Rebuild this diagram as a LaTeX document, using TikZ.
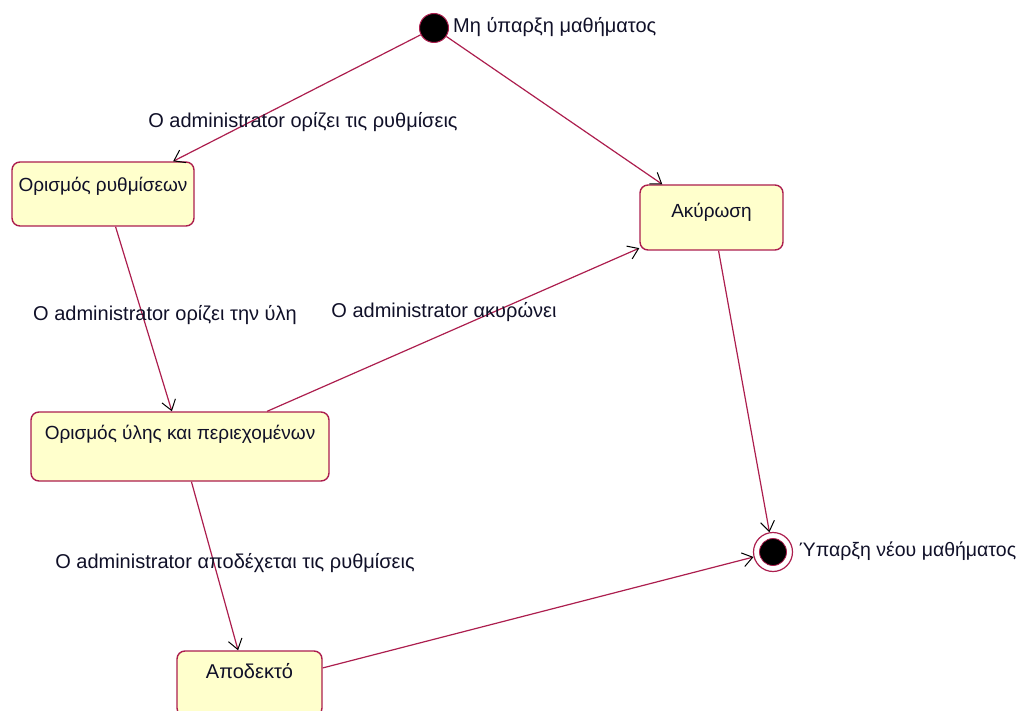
\documentclass[tikz,border=0pt]{standalone}
\usepackage{fontspec}
\setmainfont{Liberation Sans}
\usetikzlibrary{arrows.meta}
\definecolor{umlline}{RGB}{172,30,78}
\definecolor{umlfill}{RGB}{255,255,204}
\definecolor{umltext}{RGB}{16,16,40}
\tikzset{
  state/.style={draw=umlline, fill=umlfill, line width=1.4pt, rounded corners=8pt,
    inner sep=0pt, text=umltext, font=\fontsize{19}{23}\selectfont},
  lbl/.style={text=umltext, font=\fontsize{20}{24}\selectfont, inner sep=0pt},
  trans/.style={draw=umlline, line width=1.2pt,
    -{Straight Barb[length=10pt,width=14pt,color=black,line width=1pt]}},
  initst/.style={circle, fill=black, draw=umlline, line width=1pt, minimum size=29pt, inner sep=0pt},
  finst/.style={circle, draw=umlline, line width=1.2pt, fill=white, minimum size=39pt, inner sep=0pt,
    path picture={\fill[black] (path picture bounding box.center) circle (13.5pt);
                  \draw[umlline, line width=0.8pt] (path picture bounding box.center) circle (13.5pt);}},
}
\begin{document}
\begin{tikzpicture}[x=1pt,y=-1pt]
\useasboundingbox (0,0) rectangle (1019,711);

\node[initst] (init) at (434,28) {};
\node[lbl, anchor=base west] (initl) at (453,33) {Μη ύπαρξη μαθήματος};

\node[finst] (fin) at (773,552) {};
\node[lbl, anchor=base west, font=\fontsize{19.5}{23}\selectfont] (finl) at (799,556) {Ύπαρξη νέου μαθήματος};

\node[state, minimum width=182pt, text height=30pt, text depth=34pt] (s1) at (103,194) {Ορισμός ρυθμίσεων};
\node[state, minimum width=143pt, text height=33pt, text depth=32pt] (a) at (711.5,217.5) {Ακύρωση};
\node[state, minimum width=298pt, text height=27pt, text depth=42pt] (u) at (180,446.5) {Ορισμός ύλης και περιεχομένων};
\node[state, minimum width=145pt, text height=27pt, text depth=38pt, font=\fontsize{20}{24}\selectfont] (d) at (249.5,683.5) {Αποδεκτό};

\draw[trans] (init) -- (s1.25.5);
\draw[trans] (init) -- (a.146.7);
\draw[trans] (s1.-69.4) -- (u.103.05);
\draw[trans] (u.22.09) -- (a.203.1);
\draw[trans] (a.-78.7) -- (fin);
\draw[trans] (u.-72.3) -- (d.109.5);
\draw[trans] (d.12.8) -- (fin);

\node[lbl, anchor=base] (l1) at (303,128) {Ο administrator ορίζει τις ρυθμίσεις};
\node[lbl, anchor=base] (l2) at (165,320) {Ο administrator ορίζει την ύλη};
\node[lbl, anchor=base] (l3) at (444,317) {Ο administrator ακυρώνει};
\node[lbl, anchor=base] (l4) at (235,568) {Ο administrator αποδέχεται τις ρυθμίσεις};
\end{tikzpicture}
\end{document}
